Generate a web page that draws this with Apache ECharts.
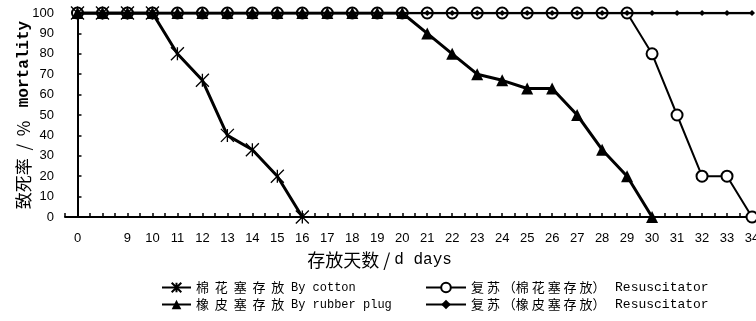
<!DOCTYPE html>
<html><head><meta charset="utf-8">
<script src="https://cdn.jsdelivr.net/npm/echarts@6/dist/echarts.min.js"></script>
<style>html,body{margin:0;padding:0;background:#fff}#c{width:756px;height:321px}</style>
</head><body><div id="c"></div>
<script>
var categories = ['0','','9','10','11','12','13','14','15','16','17','18','19','20','21','22','23','24','25','26','27','28','29','30','31','32','33','34'];
var cotton = [100,100,100,100,80,67,40,33,20,0,null,null,null,null,null,null,null,null,null,null,null,null,null,null,null,null,null,null];
var rubber = [100,100,100,100,100,100,100,100,100,100,100,100,100,100,90,80,70,67,63,63,50,33,20,0,null,null,null,null];
var resCotton = [100,100,100,100,100,100,100,100,100,100,100,100,100,100,100,100,100,100,100,100,100,100,100,80,50,20,20,0];
var resRubber = [100,100,100,100,100,100,100,100,100,100,100,100,100,100,100,100,100,100,100,100,100,100,100,100,100,100,100,100];
var names = ['棉  花  塞  存  放|By cotton','橡  皮  塞  存  放|By rubber plug','复 苏 （棉 花 塞 存 放） |Resuscitator','复 苏 （橡 皮 塞 存 放） |Resuscitator'];

function pts(arr){ var o=[]; arr.forEach(function(v,i){ if(v!==null) o.push([i,v]); }); return o; }
var chart = echarts.init(document.getElementById('c'), null, {renderer:'canvas'});
var legendRich1 = {
  zh:{fontFamily:'Noto Sans CJK SC', fontSize:13, color:'#000'},
  en:{fontFamily:'Liberation Mono', fontSize:12, color:'#000'}
};
var legendRich2 = {
  zh:{fontFamily:'Noto Sans CJK SC', fontSize:13, color:'#000'},
  en:{fontFamily:'Liberation Mono', fontSize:13, color:'#000'}
};
function fmt(n){ var p=n.split('|'); return '{zh|'+p[0]+'}  {en|'+p[1]+'}'; }
var starPath = 'path://M0,0L10,10M10,0L0,10M5,0L5,10';
chart.setOption({
  animation:false,
  backgroundColor:'#fff',
  grid:{left:65, right:4, top:13, bottom:104, outerBoundsMode:'none', containLabel:false},
  legend:[
    {data:[names[0],names[1]], left:156, top:276, orient:'vertical', itemGap:4, itemWidth:29, itemHeight:12,
     formatter:fmt, textStyle:{rich:legendRich1}},
    {data:[names[2],names[3]], left:420, top:276, orient:'vertical', itemGap:4, itemWidth:40, itemHeight:12,
     formatter:fmt, textStyle:{rich:legendRich2}}
  ],
  xAxis:{
    type:'value', min:-0.5, max:27, interval:0.5,
    name:'{zh|存放天数 / }{en|d days}', nameLocation:'middle', nameGap:34, nameMoveOverlap:false,
    nameTextStyle:{padding:[0,58,0,0], rich:{zh:{fontFamily:'Noto Sans CJK SC', fontSize:18, color:'#000'}, en:{fontFamily:'Liberation Mono', fontSize:16, color:'#000'}}},
    axisLine:{lineStyle:{color:'#000', width:2}},
    axisTick:{inside:true, length:4, lineStyle:{color:'#000', width:1.5}},
    splitLine:{show:false},
    axisLabel:{color:'#000', fontFamily:'Liberation Sans', fontSize:13, margin:15, showMinLabel:true, showMaxLabel:true,
      formatter:function(v){ if(Math.abs(v-Math.round(v))>0.01) return ''; var i=Math.round(v); return i>=0&&i<categories.length?categories[i]:''; }}
  },
  yAxis:{
    type:'value', min:0, max:100, interval:10,
    name:'{zh|致死率  /  %}    {en|mortality}', nameLocation:'middle', nameGap:33, nameMoveOverlap:false,
    nameTextStyle:{rich:{zh:{fontFamily:'Noto Sans CJK SC', fontSize:17, color:'#000'}, en:{fontFamily:'Liberation Mono', fontSize:16, color:'#000', fontWeight:'bold'}}},
    axisLine:{show:true, lineStyle:{color:'#000', width:2}},
    axisTick:{show:true, inside:true, length:4, lineStyle:{color:'#000', width:1.5}},
    splitLine:{show:false},
    axisLabel:{color:'#000', fontFamily:'Liberation Sans', fontSize:13, margin:11}
  },
  series:[
    {name:names[2], type:'line', data:pts(resCotton), symbol:'emptyCircle', symbolSize:11,
     lineStyle:{color:'#000', width:2}, itemStyle:{color:'#000', borderColor:'#000', borderWidth:1.5}, z:2},
    {name:names[3], type:'line', data:pts(resRubber), symbol:'diamond', symbolSize:6,
     lineStyle:{color:'#000', width:2.5}, itemStyle:{color:'#000'}, z:3},
    {name:names[1], type:'line', data:pts(rubber), symbol:'triangle', symbolSize:12,
     lineStyle:{color:'#000', width:3}, itemStyle:{color:'#000'}, z:4},
    {name:names[0], type:'line', data:pts(cotton), symbol:starPath, symbolSize:13,
     lineStyle:{color:'#000', width:3}, itemStyle:{color:'#000', borderColor:'#000', borderWidth:1.3}, z:5}
  ]
});
</script></body></html>
